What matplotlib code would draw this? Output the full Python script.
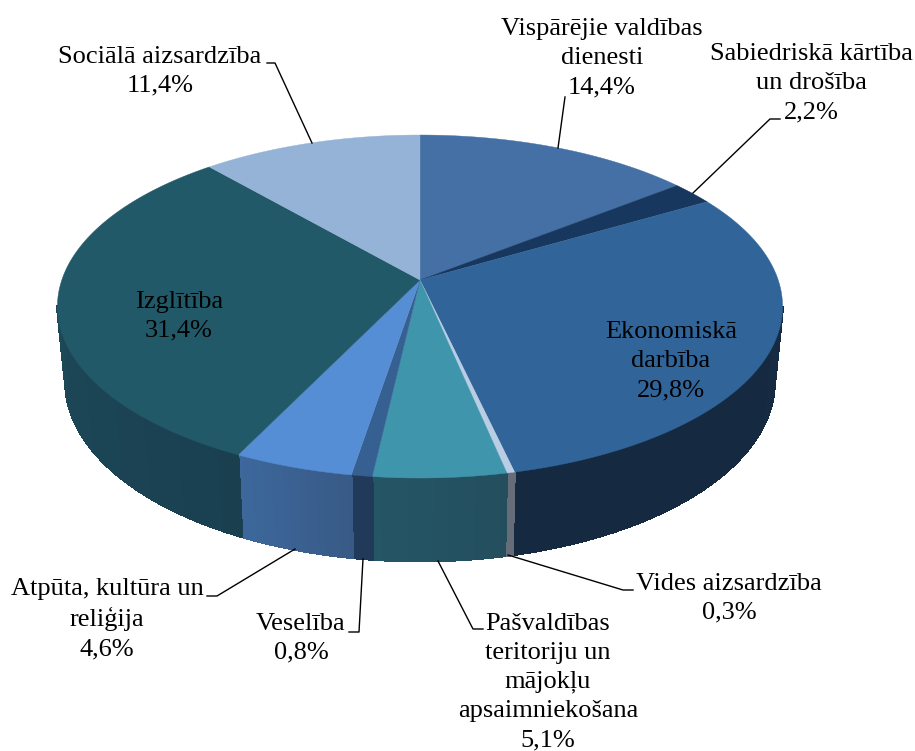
import numpy as np
import matplotlib
matplotlib.use('Agg')
import matplotlib.pyplot as plt
from matplotlib.colors import to_rgb

plt.rcParams['font.family'] = ['Liberation Serif', 'DejaVu Serif']

names = ['Vispārējie valdības\ndienesti', 'Sabiedriskā kārtība\nun drošība', 'Ekonomiskā\ndarbība',
         'Vides aizsardzība', 'Pašvaldības\nteritoriju un\nmājokļu\napsaimniekošana', 'Veselība',
         'Atpūta, kultūra un\nreliģija', 'Izglītība', 'Sociālā aizsardzība']
values = [14.4, 2.2, 29.8, 0.3, 5.1, 0.8, 4.6, 31.4, 11.4]
top_colors = ['#4470A5', '#17375E', '#31659A', '#B9CDE5', '#3F96AC', '#376092', '#558ED5', '#215968', '#95B3D7']
# wall colours from the right end of a slice to its left end
wall_start = ['#2D4A6E', '#0F2540', '#162B41', '#666C78', '#234E5E', '#223A5A', '#385A86', '#1A4050', '#647A94']
wall_end = ['#2D4A6E', '#0F2540', '#152A40', '#666C78', '#255666', '#223A5A', '#3D689C', '#1F5060', '#647A94']

# text centres and leader lines, in pixels of the picture
label_pos = [(602, 58), (811, 83), (671, 361), (729, 598), (548, 682), (301, 638), (107, 619), (179, 316), (160, 71)]
leaders = [[(565, 97), (558, 148)],
           [(780, 119), (770, 119), (693, 193)],
           None,
           [(633, 590), (623, 590), (508, 555)],
           [(483, 629), (473, 629), (438, 561)],
           [(349, 632), (359, 632), (363, 559)],
           [(207, 596), (217, 596), (295, 549)],
           None,
           [(267, 63), (275, 63), (312, 143)]]

# perspective of the disc
cx, cy = 420, 280
rx, ry = 358.2, 167.4
k = 0.1546
depth = 74
shrink = 0.978  # lower rim is further from the eye


def project(t, h=0.0, s=1.0):
    u, v = np.sin(t), np.cos(t)
    w = 1 + k * v
    return cx + s * rx * u / w, cy - s * ry * v / w + h / w


fig, ax = plt.subplots(figsize=(9.15, 7.51), dpi=100)
fig.subplots_adjust(0, 0, 1, 1)
ax.set_xlim(0, 915)
ax.set_ylim(751, 0)
ax.axis('off')

edges = np.deg2rad(np.concatenate([[0], np.cumsum(values)]) * 3.6)

# side walls first, split in strips for the shading
for i in range(len(values)):
    a, b = edges[i], edges[i + 1]
    n = max(int(np.rad2deg(b - a) * 2), 1)
    ts = np.linspace(a, b, n + 1)
    c0, c1 = np.array(to_rgb(wall_start[i])), np.array(to_rgb(wall_end[i]))
    for j in range(n):
        mid = (ts[j] + ts[j + 1]) / 2
        if np.cos(mid) > -0.15:
            continue
        seg = np.linspace(ts[j], ts[j + 1], 3)
        x1, y1 = project(seg)
        x2, y2 = project(seg[::-1], depth, shrink)
        col = c0 + (c1 - c0) * (j + 0.5) / n
        ax.fill(np.r_[x1, x2], np.r_[y1, y2], color=col, lw=1.0, antialiased=False, zorder=1)

# top face
for i in range(len(values)):
    ts = np.linspace(edges[i], edges[i + 1], 200)
    x, y = project(ts)
    ax.fill(np.r_[cx, x], np.r_[cy, y], color=top_colors[i], lw=0.3, zorder=2)

for i, name in enumerate(names):
    text = name + '\n' + f'{values[i]:.1f}%'.replace('.', ',')
    ax.text(label_pos[i][0], label_pos[i][1], text, ha='center', va='center', fontsize=19,
            linespacing=1.41, color='black', zorder=4)
    if leaders[i]:
        xs, ys = zip(*leaders[i])
        ax.plot(xs, ys, color='black', lw=1.0, zorder=3)

fig.savefig('out.png', dpi=100)
